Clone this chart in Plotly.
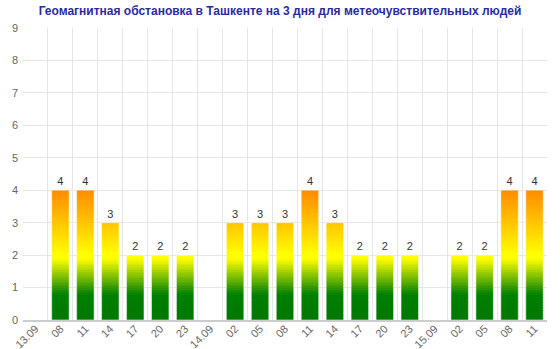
import plotly.graph_objects as go
import numpy as np

categories = ["13.09", "08", "11", "14", "17", "20", "23",
              "14.09", "02", "05", "08", "11", "14", "17", "20", "23",
              "15.09", "02", "05", "08", "11"]
values = [None, 4, 4, 3, 2, 2, 2,
          None, 3, 3, 3, 4, 3, 2, 2, 2,
          None, 2, 2, 4, 4]
title_text = "Геомагнитная обстановка в Ташкенте на 3 дня для метеочувствительных людей"

# colour stops for the vertical gradient (by y value)
stops = [(0.0, (0, 120, 0)), (0.8, (0, 128, 0)), (1.9, (255, 255, 0)),
         (2.0, (255, 255, 0)), (4.0, (255, 140, 0)), (9.0, (255, 140, 0))]

def color_at(v):
    for (a, ca), (b, cb) in zip(stops[:-1], stops[1:]):
        if a <= v <= b:
            t = (v - a) / (b - a) if b > a else 0
            c = [round(ca[i] + (cb[i] - ca[i]) * t) for i in range(3)]
            return f"rgb({c[0]},{c[1]},{c[2]})"
    return "rgb(255,140,0)"

x = list(range(len(categories)))
vals = np.array([v if v is not None else 0 for v in values], dtype=float)

fig = go.Figure()
dy = 0.05
nlev = int(round(vals.max() / dy))
for k in range(nlev):
    lo = k * dy
    h = np.clip(vals - lo, 0, dy)
    fig.add_trace(go.Bar(
        x=x, y=h, base=[lo] * len(x), width=0.7,
        marker=dict(color=color_at(lo + dy / 2), line=dict(width=0)),
        hoverinfo="skip", showlegend=False))

# outline + labels
fig.add_trace(go.Bar(
    x=x, y=values, width=0.7,
    marker=dict(color="rgba(0,0,0,0)", line=dict(color="rgba(255,255,255,0.55)", width=1)),
    text=[str(v) if v is not None else "" for v in values],
    textposition="outside", textfont=dict(size=11, color="#333333", family="Liberation Sans, Arial"),
    cliponaxis=False, showlegend=False))

fig.update_layout(
    width=560, height=349,
    barmode="overlay",
    plot_bgcolor="white", paper_bgcolor="white",
    margin=dict(l=23, r=13, t=28, b=29),
    title=dict(text=title_text, x=0.5, xanchor="center", y=0.97, yanchor="middle",
               font=dict(size=12, color="#2b2b9e", family="Liberation Sans, Arial", weight="bold")),
    font=dict(family="Liberation Sans, Arial", size=11, color="#666666"),
)
fig.update_xaxes(
    range=[-0.5, len(categories) - 0.5],
    tickmode="array", tickvals=x, ticktext=categories,
    tickangle=-45, showgrid=False, automargin=False,
    tickfont=dict(size=11, color="#666666"),
    ticklabelstandoff=-4,
    minor=dict(tickmode="array", tickvals=[i - 0.5 for i in range(len(categories) + 1)],
               showgrid=True, gridcolor="#e6e6e6", gridwidth=1),
    showline=True, linecolor="#cccccc", linewidth=2,
    zeroline=False, fixedrange=True,
)
fig.update_yaxes(
    range=[0, 9], dtick=1, showgrid=True, gridcolor="#e6e6e6", automargin=False,
    zeroline=False, tickfont=dict(size=11, color="#666666"),
    ticklabelstandoff=4,
)

fig.write_html("out.html")
